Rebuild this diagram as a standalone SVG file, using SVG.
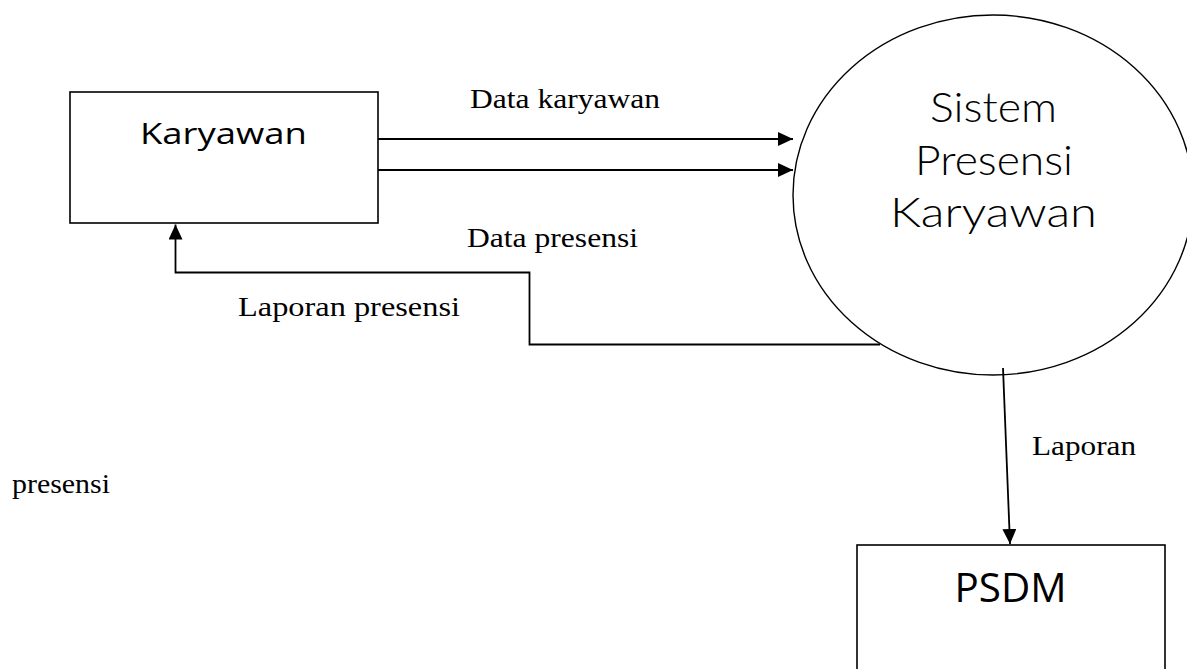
<svg xmlns="http://www.w3.org/2000/svg" width="1187" height="669" viewBox="0 0 1187 669">
  <style>
    .box { fill: #ffffff; stroke: #000000; stroke-width: 1.6; }
    .proc { fill: #ffffff; stroke: #000000; stroke-width: 1.4; }
    .conn { fill: none; stroke: #000000; stroke-width: 1.8; }
    .lbl { font-family: "Liberation Serif", "Times New Roman", serif; font-size: 28px; fill: #000000; }
    .ent { font-family: "Open Sans", "Noto Sans", sans-serif; fill: #000000; text-anchor: middle; }
    .sys { font-family: "Lato", "Noto Sans", sans-serif; font-weight: 300; font-size: 41px; fill: #000000; text-anchor: middle; }
  </style>
  <defs>
    <marker id="arrow" markerUnits="userSpaceOnUse" markerWidth="15" markerHeight="14" refX="15" refY="7" orient="auto">
      <path d="M0,0 L15,7 L0,14 Z" fill="#000000"/>
    </marker>
  </defs>
  <rect width="1187" height="669" fill="#ffffff"/>

  <g id="node-karyawan">
    <rect class="box" x="70" y="92" width="308" height="131"/>
    <text class="ent" x="223.5" y="144" font-size="30" textLength="167" lengthAdjust="spacingAndGlyphs">Karyawan</text>
  </g>

  <g id="node-sistem">
    <ellipse class="proc" cx="993" cy="195" rx="200" ry="180"/>
    <text class="sys" x="993.5" y="122" textLength="127" lengthAdjust="spacingAndGlyphs">Sistem</text>
    <text class="sys" x="994" y="174.5" textLength="158" lengthAdjust="spacingAndGlyphs">Presensi</text>
    <text class="sys" x="993.5" y="227" textLength="207" lengthAdjust="spacingAndGlyphs">Karyawan</text>
  </g>

  <g id="node-psdm">
    <rect class="box" x="857" y="545" width="308" height="160"/>
    <text class="ent" x="1010.5" y="602" font-size="40" textLength="112" lengthAdjust="spacingAndGlyphs">PSDM</text>
  </g>

  <g id="connectors">
    <line class="conn" x1="378" y1="139" x2="793" y2="139" marker-end="url(#arrow)"/>
    <line class="conn" x1="378" y1="170" x2="793" y2="170" marker-end="url(#arrow)"/>
    <path class="conn" d="M880,344.5 H529.5 V272.5 H175.5 V224.5" marker-end="url(#arrow)"/>
    <line class="conn" x1="1003" y1="368" x2="1010" y2="544" marker-end="url(#arrow)"/>
  </g>

  <g id="labels">
    <text class="lbl" x="470" y="108" textLength="190" lengthAdjust="spacingAndGlyphs">Data karyawan</text>
    <text class="lbl" x="467" y="247" textLength="171" lengthAdjust="spacingAndGlyphs">Data presensi</text>
    <text class="lbl" x="238" y="316" textLength="222" lengthAdjust="spacingAndGlyphs">Laporan presensi</text>
    <text class="lbl" x="1032" y="455" textLength="104" lengthAdjust="spacingAndGlyphs">Laporan</text>
    <text class="lbl" x="12" y="493" textLength="98" lengthAdjust="spacingAndGlyphs">presensi</text>
  </g>
</svg>
